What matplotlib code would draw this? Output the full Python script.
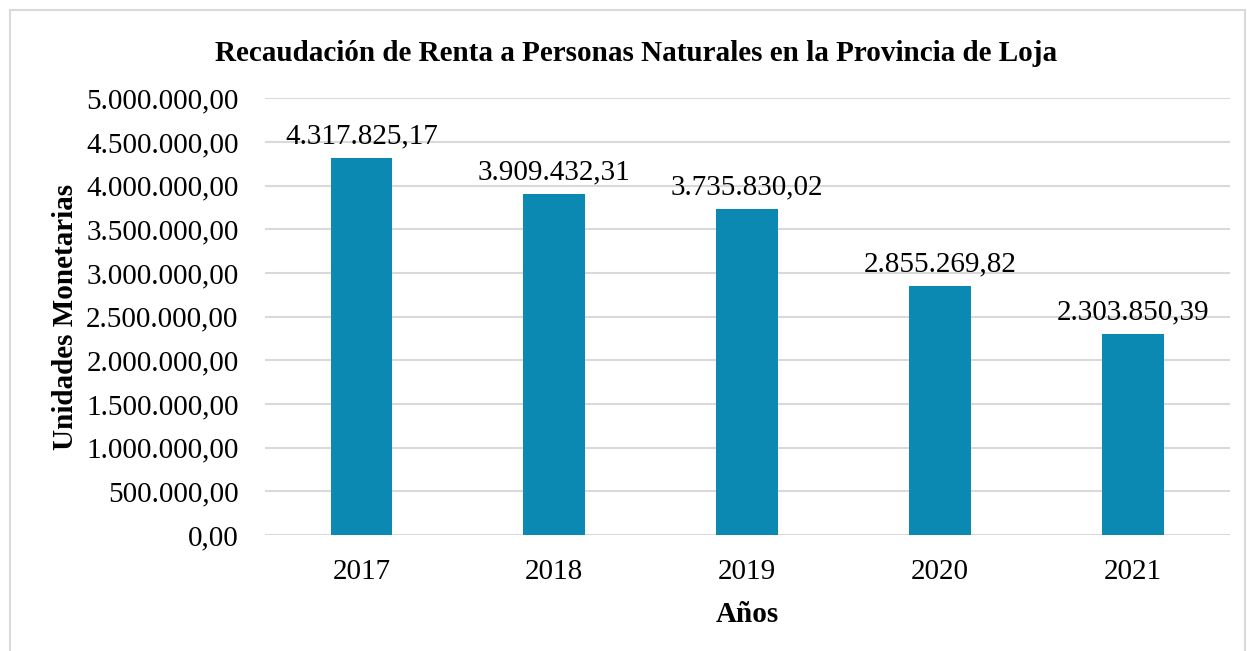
import matplotlib.pyplot as plt
from matplotlib.patches import Rectangle

years = ['2017', '2018', '2019', '2020', '2021']
recaudacion = [4317825.17, 3909432.31, 3735830.02, 2855269.82, 2303850.39]
yticks = [0, 500000, 1000000, 1500000, 2000000, 2500000, 3000000, 3500000, 4000000, 4500000, 5000000]


def fmt_es(v):
    s = '{:,.2f}'.format(v)
    return s.replace(',', 'X').replace('.', ',').replace('X', '.')


plt.rcParams['font.family'] = ['Liberation Serif', 'DejaVu Serif']

fig = plt.figure(figsize=(12.47, 6.51), dpi=100)
ax = fig.add_axes([0.2125, 0.178, 0.986 - 0.2125, 0.849 - 0.178])

bars = ax.bar(years, recaudacion, width=0.32, color='#0B89B3', zorder=3)
for b, v in zip(bars, recaudacion):
    ax.annotate(fmt_es(v), (b.get_x() + b.get_width() / 2, v),
                xytext=(0, 6), textcoords='offset points',
                ha='center', va='bottom', fontsize=21)

ax.set_ylim(0, 5000000)
ax.set_xlim(-0.5, 4.5)
ax.set_yticks(yticks)
ax.set_yticklabels([fmt_es(t) for t in yticks], fontsize=21)
ax.tick_params(axis='x', labelsize=21, length=0, pad=17)
ax.tick_params(axis='y', length=0, pad=19)
ax.grid(axis='y', color='#d9d9d9', linewidth=1.5, zorder=0)
for s in ax.spines.values():
    s.set_visible(False)

ax.set_xlabel('Años', fontsize=21, fontweight='bold', labelpad=12)
ax.set_ylabel('Unidades Monetarias', fontsize=21, fontweight='bold', labelpad=5)
fig.text(0.51, 0.918, 'Recaudación de Renta a Personas Naturales en la Provincia de Loja',
         ha='center', va='center', fontsize=21, fontweight='bold')

fig.patches.append(Rectangle((10 / 1247, -0.05), 1235 / 1247, 1.05 - 10 / 651,
                             transform=fig.transFigure, fill=False,
                             edgecolor='#d9d9d9', linewidth=1.5))

fig.savefig('out.png', dpi=100)
